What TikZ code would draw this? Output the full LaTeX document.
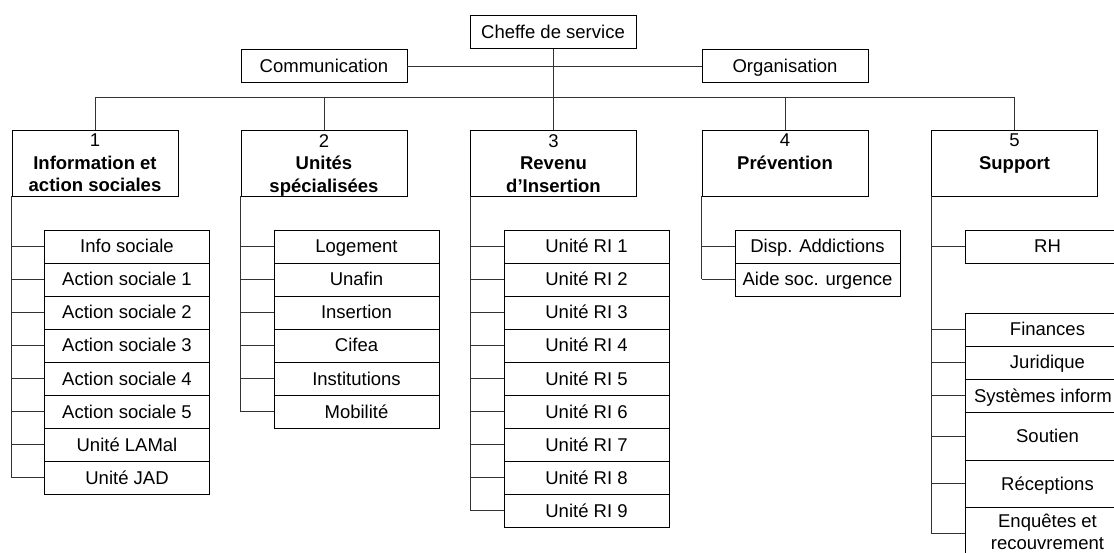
\documentclass[tikz,border=0pt]{standalone}
\usepackage{fontspec}
\setmainfont{Liberation Sans}
\begin{document}
\begin{tikzpicture}[x=1pt,y=-1pt,
  every node/.style={font=\fontsize{18.5}{22.5}\selectfont},
  box/.style={draw=black, line width=0.8pt, fill=white, inner sep=0pt,
    minimum width=166pt, minimum height=33pt, text height=13pt, text depth=0pt},
  headbox/.style={box, minimum height=66pt},
  headtext/.style={anchor=north, inner sep=0pt, align=center},
  sub/.style={box, minimum width=165pt},
  conn/.style={draw=black!80, line width=0.9pt}]
\path[use as bounding box] (0,0) rectangle (1114,553);
\clip (0,0) rectangle (1114,553);

% management and staff units
\node[box] (cs) at (553,32) {Cheffe de service};
\node[box] (comm) at (324,66) {Communication};
\node[box] (org) at (785,66) {Organisation};

% the five departments
\node[headbox] (h1) at (95,163) {};
\node[headbox] (h2) at (324,163) {};
\node[headbox] (h3) at (553.5,163) {};
\node[headbox] (h4) at (785,163) {};
\node[headbox] (h5) at (1014.5,163) {};
\node[headtext] (t1) at (95,134) {1\\\textbf{Information et}\\\textbf{action sociales}};
\node[headtext] (t2) at (324,134) {2\\\textbf{Unités}\\\textbf{spécialisées}};
\node[headtext] (t3) at (553.5,134) {3\\\textbf{Revenu}\\\textbf{d’Insertion}};
\node[headtext] (t4) at (785,134) {4\\\textbf{Prévention}};
\node[headtext] (t5) at (1014.5,134) {5\\\textbf{Support}};

% top connectors
\coordinate (bus) at (553,97);
\draw[conn] (comm.east) -- (org.west);
\draw[conn] (cs.south) -- (bus);
\draw[conn] (h1.north |- bus) -- (h5.north |- bus);
\foreach \h in {h1,h2,h3,h4,h5}
  \draw[conn] (\h.north |- bus) -- (\h.north);

% department 1
\foreach \t [count=\i] in {Info sociale, Action sociale 1, Action sociale 2,
    Action sociale 3, Action sociale 4, Action sociale 5, Unité LAMal, Unité JAD}
  \node[sub] (a\i) at (127,{246.5+33*(\i-1)}) {\t};
\draw[conn] (h1.south west) -- (h1.south west |- a8.west);
\foreach \i in {1,...,8}
  \draw[conn] (h1.south west |- a\i.west) -- (a\i.west);

% department 2
\foreach \t [count=\i] in {Logement, Unafin, Insertion, Cifea, Institutions, Mobilité}
  \node[sub] (b\i) at (356.5,{246.5+33*(\i-1)}) {\t};
\draw[conn] (h2.south west) -- (h2.south west |- b6.west);
\foreach \i in {1,...,6}
  \draw[conn] (h2.south west |- b\i.west) -- (b\i.west);

% department 3
\foreach \i in {1,...,9}
  \node[sub] (c\i) at (586.5,{246.5+33*(\i-1)}) {Unité RI \i};
\draw[conn] (h3.south west) -- (h3.south west |- c9.west);
\foreach \i in {1,...,9}
  \draw[conn] (h3.south west |- c\i.west) -- (c\i.west);

% department 4
\node[sub] (d1) at (817.5,246.5) {Disp. Addictions};
\node[sub] (d2) at (817.5,279.5) {Aide soc. urgence};
\draw[conn] (h4.south west) -- (h4.south west |- d2.west);
\foreach \i in {1,2}
  \draw[conn] (h4.south west |- d\i.west) -- (d\i.west);

% department 5
\node[sub] (e1) at (1047.5,246.5) {RH};
\node[sub] (e2) at (1047.5,329.5) {Finances};
\node[sub] (e3) at (1047.5,362.5) {Juridique};
\node[sub] (e4) at (1047.5,395.5) {};
\node[anchor=east, inner sep=0pt, text height=13pt, text depth=0pt] (e4t)
  at (1112,395.5) {Systèmes inform};
\node[sub, minimum height=48pt] (e5) at (1047.5,436) {Soutien};
\node[sub, minimum height=47pt] (e6) at (1047.5,483.5) {Réceptions};
\node[sub, minimum height=52pt] (e7) at (1047.5,533) {};
\node[headtext] (e7t) at (1047.5,513.5) {Enquêtes et\\recouvrement};
\draw[conn] (h5.south west) -- (h5.south west |- e7.west);
\foreach \i in {1,...,7}
  \draw[conn] (h5.south west |- e\i.west) -- (e\i.west);
\end{tikzpicture}
\end{document}
